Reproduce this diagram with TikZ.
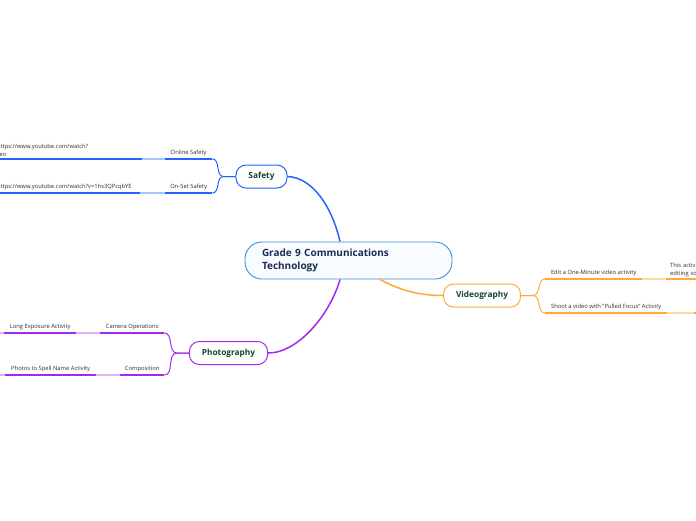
\documentclass[tikz,border=0pt]{standalone}
\usepackage{fontspec}
\setmainfont{Open Sans}
\usepackage{tikz}
\usetikzlibrary{positioning}
\usepackage{xcolor}
\definecolor{rootline}{RGB}{64,142,210}
\definecolor{rootfill}{RGB}{248,252,255}
\definecolor{rootink}{RGB}{28,44,82}
\definecolor{mainink}{RGB}{18,68,48}
\definecolor{subink}{RGB}{45,45,45}
\definecolor{safeblue}{RGB}{41,98,255}
\definecolor{safelight}{RGB}{170,196,252}
\definecolor{photopurple}{RGB}{165,40,240}
\definecolor{photolight}{RGB}{220,178,250}
\definecolor{videoorange}{RGB}{255,170,48}
\definecolor{videolight}{RGB}{255,218,168}

\begin{document}
\begin{tikzpicture}[x=1pt,y=-1pt,
    root/.style={draw=rootline, fill=rootfill, line width=0.9pt, rounded corners=17pt,
      minimum width=207pt, minimum height=37pt, inner xsep=17pt, text width=173pt,
      align=left, text=rootink, font=\bfseries\fontsize{10}{13.5}\selectfont},
    topic/.style={draw=#1, fill=white, line width=1pt, rounded corners=10pt,
      minimum height=23pt, inner xsep=12.5pt, text=mainink,
      font=\bfseries\fontsize{8.3}{10}\selectfont},
    sub/.style={anchor=south west, inner sep=0pt, minimum height=12pt, text=subink,
      font=\fontsize{5.8}{8}\selectfont},
    note/.style={sub, text width=#1, align=left, inner xsep=4pt, inner ysep=2pt},
    under/.style={draw=#1, line width=1.6pt},
    branch/.style={draw=#1, line width=1pt},
  ]
  \useasboundingbox (0,0) rectangle (696,520);

  \node[root] (root) at (348.5,260.5) {Grade 9 Communications\\Technology};
  \node[topic=safeblue] (safety) at (261.5,176.5) {Safety};
  \node[topic=videoorange] (video) at (482,295.5) {Videography};
  \node[topic=photopurple] (photo) at (228.5,353) {Photography};

  \node[sub, minimum width=47pt] (online) at (165,159) {Online Safety};
  \node[sub, minimum width=47pt] (onset) at (165,193) {On-Set Safety};
  \node[note=141pt] (onlineurl) at (-7,159)
    {https://www.youtube.com/watch?\\\hspace*{-6pt}Video};
  \node[note=139pt] (onseturl) at (-7,193)
    {https://www.youtube.com/watch?v=1hs3QPcqbYE};

  \node[sub, minimum width=97pt] (edit) at (545,279) {Edit a One-Minute video activity};
  \node[sub, minimum width=122pt] (shoot) at (545,313) {Shoot a video with "Pulled Focus" Activity};
  \node[note=92pt] (editnote) at (666,279) {This activity\\editing software};
  \node[sub, minimum width=40pt] (shootnote) at (694,313) {};

  \node[sub, minimum width=64pt] (camera) at (100,333) {Camera Operations};
  \node[sub, minimum width=44pt] (compo) at (120,375) {Composition};
  \node[sub, minimum width=72pt] (longexp) at (4,333) {Long Exposure Activity};
  \node[sub, minimum width=91pt] (spell) at (5,375) {Photos to Spell Name Activity};
  \coordinate (longend) at (0,333);
  \coordinate (spellend) at (0,375);

  \draw[safeblue, line width=1.5pt] (safety.east) .. controls +(25,1) and +(-8,-35) .. ([xshift=-8.5pt]root.north);
  \draw[photopurple, line width=1.5pt] (photo.east) .. controls +(30,0) and +(-10,35) .. ([xshift=-8.5pt]root.south);
  \draw[videoorange, line width=1.5pt] ([xshift=31.5pt]root.south) .. controls +(22,12) and +(-22,0) .. (video.west);

  \draw[branch=safeblue] (safety.west) -- ++(-12,0) to[out=180,in=0] (online.south east);
  \draw[branch=safeblue] (safety.west) -- ++(-12,0) to[out=180,in=0] (onset.south east);
  \draw[branch=videoorange] (video.east) -- ++(12,0) to[out=0,in=180] (edit.south west);
  \draw[branch=videoorange] (video.east) -- ++(12,0) to[out=0,in=180] (shoot.south west);
  \draw[branch=photopurple] (photo.west) -- ++(-12,0) to[out=180,in=0] (camera.south east);
  \draw[branch=photopurple] (photo.west) -- ++(-12,0) to[out=180,in=0] (compo.south east);

  \foreach \n in {online,onset,onlineurl,onseturl}
    \draw[under=safeblue] (\n.south west) -- (\n.south east);
  \foreach \n in {edit,shoot,editnote,shootnote}
    \draw[under=videoorange] (\n.south west) -- (\n.south east);
  \foreach \n in {camera,compo,longexp,spell}
    \draw[under=photopurple] (\n.south west) -- (\n.south east);

  \draw[under=safelight] (online.south west) -- (onlineurl.south east);
  \draw[under=safelight] (onset.south west) -- (onseturl.south east);
  \draw[under=videolight] (edit.south east) -- (editnote.south west);
  \draw[under=videolight] (shoot.south east) -- (shootnote.south west);
  \draw[under=photolight] (camera.south west) -- (longexp.south east);
  \draw[under=photolight] (compo.south west) -- (spell.south east);
  \draw[under=photolight] (longexp.south west) -- (longend);
  \draw[under=photolight] (spell.south west) -- (spellend);
\end{tikzpicture}
\end{document}
